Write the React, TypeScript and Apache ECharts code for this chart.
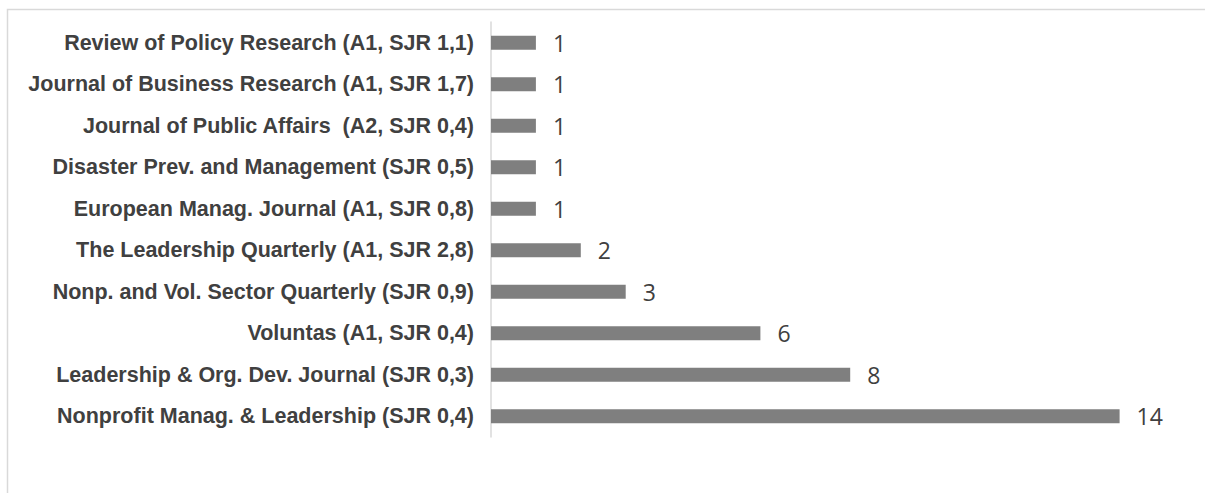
import React, { useEffect, useRef } from "react";
import * as echarts from "echarts";

const categories = [
  "Review of Policy Research (A1, SJR 1,1)",
  "Journal of Business Research (A1, SJR 1,7)",
  "Journal of Public Affairs  (A2, SJR 0,4)",
  "Disaster Prev. and Management (SJR 0,5)",
  "European Manag. Journal (A1, SJR 0,8)",
  "The Leadership Quarterly (A1, SJR 2,8)",
  "Nonp. and Vol. Sector Quarterly (SJR 0,9)",
  "Voluntas (A1, SJR 0,4)",
  "Leadership & Org. Dev. Journal (SJR 0,3)",
  "Nonprofit Manag. & Leadership (SJR 0,4)",
];
const counts = [1, 1, 1, 1, 1, 2, 3, 6, 8, 14];

export default function App() {
  const ref = useRef<HTMLDivElement>(null);
  useEffect(() => {
    document.body.style.margin = "0";
    const chart = echarts.init(ref.current!, undefined, { renderer: "svg" });
    chart.setOption({
      animation: false,
      backgroundColor: "#ffffff",
      graphic: [
        {
          type: "rect",
          shape: { x: 7.5, y: 9.5, width: 1300, height: 600 },
          style: { fill: "none", stroke: "#d9d9d9", lineWidth: 1.5 },
          silent: true,
        },
      ],
      grid: { left: 491, top: 22, bottom: 56, right: 40.5, containLabel: false },
      xAxis: {
        type: "value",
        min: 0,
        max: 15,
        show: false,
        splitLine: { show: false },
      },
      yAxis: {
        type: "category",
        data: categories,
        inverse: true,
        axisLine: { show: true, lineStyle: { color: "#d9d9d9", width: 1.5 } },
        axisTick: { show: false },
        axisLabel: {
          color: "#404040",
          fontFamily: "Liberation Sans, Arial, sans-serif",
          fontWeight: "bold",
          fontSize: 21.5,
          margin: 17,
        },
      },
      series: [
        {
          type: "bar",
          data: counts,
          barWidth: 14,
          itemStyle: { color: "#7f7f7f" },
          label: {
            show: true,
            position: "right",
            distance: 17,
            color: "#404040",
            fontFamily: "Open Sans, Noto Sans, sans-serif",
            fontSize: 23,
          },
        },
      ],
    });
    return () => chart.dispose();
  }, []);
  return <div ref={ref} style={{ width: 1205, height: 493 }} />;
}
